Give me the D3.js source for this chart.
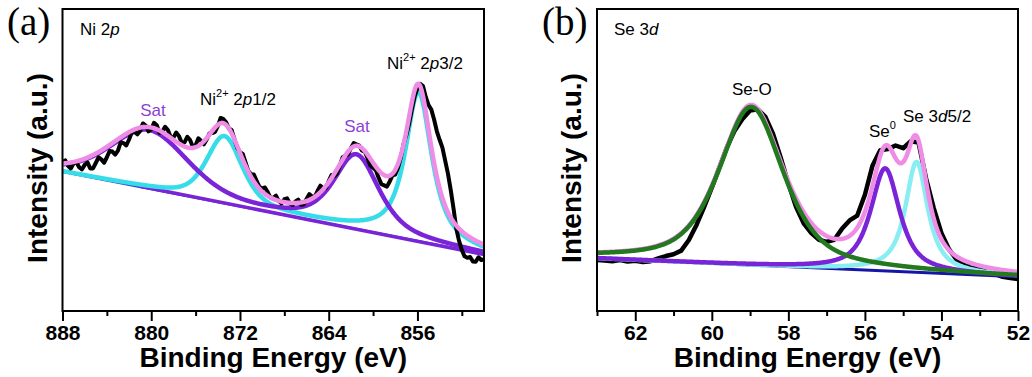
<!DOCTYPE html>
<html>
<head>
<meta charset="utf-8">
<script src="https://cdn.jsdelivr.net/npm/d3@7"></script>
<style>
  html, body { margin: 0; padding: 0; background: #fff; }
  svg { display: block; font-family: "Liberation Sans", Arial, sans-serif; }
</style>
</head>
<body>
<svg id="chart" width="1032" height="377"></svg>
<script>
// ---------- Ni 2p region ----------
// measured spectrum: [binding energy (eV), intensity (a.u.)]
const niData = [
  [888.0,49.3],[887.75,49.9],[887.5,48.1],[887.25,47.2],[887.0,48.9],[886.75,49.3],[886.5,47.6],[886.25,46.9],
  [886.0,48.4],[885.75,49.2],[885.5,47.2],[885.25,47.2],[885.0,49.0],[884.75,50.9],[884.5,50.2],[884.25,49.1],
  [884.0,50.9],[883.75,53.0],[883.5,52.8],[883.25,51.8],[883.0,53.1],[882.75,55.9],[882.5,55.6],[882.25,54.8],
  [882.0,56.8],[881.75,59.2],[881.5,59.3],[881.25,58.5],[881.0,59.6],[880.75,62.1],[880.5,61.4],[880.25,59.5],
  [880.0,60.2],[879.75,62.3],[879.5,61.5],[879.25,59.0],[879.0,59.4],[878.75,61.0],[878.5,59.9],[878.25,57.6],
  [878.0,57.4],[877.75,59.1],[877.5,57.9],[877.25,55.7],[877.0,55.8],[876.75,57.7],[876.5,56.6],[876.25,54.4],
  [876.0,54.9],[875.75,57.2],[875.5,56.3],[875.25,55.2],[875.0,56.8],[874.75,58.8],[874.5,58.9],[874.25,59.3],
  [874.0,61.2],[873.75,63.9],[873.5,63.6],[873.25,62.5],[873.0,60.4],[872.75,59.9],[872.5,56.9],[872.25,54.0],
  [872.0,52.6],[871.75,52.0],[871.5,49.2],[871.25,46.4],[871.0,45.3],[870.75,45.2],[870.5,43.1],[870.25,41.1],
  [870.0,40.6],[869.75,40.9],[869.5,39.4],[869.25,37.5],[869.0,37.5],[868.75,38.2],[868.5,36.4],[868.25,35.6],
  [868.0,37.0],[867.75,37.3],[867.5,35.6],[867.25,35.1],[867.0,36.3],[866.75,36.9],[866.5,35.2],[866.25,35.3],
  [866.0,37.1],[865.75,38.7],[865.5,37.9],[865.25,37.9],[865.0,39.8],[864.75,41.5],[864.5,40.6],[864.25,40.7],
  [864.0,43.0],[863.75,45.0],[863.5,44.6],[863.25,45.5],[863.0,48.1],[862.75,50.9],[862.5,51.4],[862.25,51.9],
  [862.0,53.9],[861.75,55.6],[861.5,55.2],[861.25,54.8],[861.0,53.1],[860.75,52.8],[860.5,50.6],[860.25,48.2],
  [860.0,47.4],[859.75,46.6],[859.5,44.1],[859.25,42.0],[859.0,41.6],[858.75,41.2],[858.5,42.9],[858.25,44.9],
  [858.0,45.2],[857.75,47.4],[857.5,50.8],[857.25,55.3],[857.0,58.3],[856.75,62.0],[856.5,66.8],[856.25,71.1],
  [856.0,73.8],[855.75,75.2],[855.5,74.5],[855.25,70.9],[855.0,68.2],[854.75,66.7],[854.5,63.4],[854.25,59.5],
  [854.0,56.7],[853.75,54.1],[853.5,49.8],[853.25,45.5],[853.0,40.1],[852.75,34.0],[852.5,27.3],[852.25,23.2],
  [852.0,20.2],[851.75,18.1],[851.5,17.6],[851.25,17.9],[851.0,16.4],[850.75,16.3],[850.5,17.8],[850.25,16.9],
  [850.0,17.1]
];
// linear background end points
const niBackground = [[888, 46.1], [850, 18.9]];
const niSatBackground = [[881, 41.3], [850, 18.7]];
// fitted components: 2p3/2, 2p1/2, satellite, satellite
const niCenters = [855.9, 873.4, 880.2, 861.5];
const niHeights = [49.3, 22.0, 19.2, 24.5];
const niFwhm    = [2.85, 3.8, 8.2, 4.8];
const niLorentz = [0.85, 0.5, 0.3, 0.6];
const niGroups  = ["main", "main", "sat", "sat"];
const niTicks = [888, 880, 872, 864, 856];
const niMinorTicks = [884, 876, 868, 860, 852];

// ---------- Se 3d region ----------
const seData = [
  [63.0,16.9],[62.8,16.7],[62.6,16.5],[62.4,16.9],[62.2,16.4],[62.0,16.6],[61.8,16.2],[61.6,16.5],
  [61.4,17.4],[61.2,18.2],[61.0,18.8],[60.8,20.0],[60.6,23.5],[60.4,28.5],[60.2,34.5],[60.0,40.8],
  [59.8,47.6],[59.6,54.4],[59.4,59.8],[59.2,63.6],[59.0,66.4],[58.8,66.8],[58.6,64.3],[58.4,58.6],
  [58.2,50.8],[58.0,42.2],[57.8,34.5],[57.6,29.0],[57.4,25.8],[57.2,23.6],[57.0,22.9],[56.8,23.6],
  [56.6,27.2],[56.4,30.0],[56.2,31.6],[56.0,38.5],[55.8,48.2],[55.6,53.2],[55.4,53.6],[55.2,54.8],
  [55.0,53.9],[54.8,56.2],[54.6,55.8],[54.4,43.8],[54.2,34.0],[54.0,25.8],[53.8,20.4],[53.6,16.9],
  [53.4,15.4],[53.2,14.6],[53.0,13.8],[52.8,12.9],[52.6,12.2],[52.4,11.3],[52.2,10.9],[52.0,10.6]
];
const seBackground = [[63, 17.45], [52, 11.3]];
// fitted components: Se-O, Se0, Se 3d5/2
const seCenters = [58.97, 55.47, 54.65];
const seHeights = [52.4, 34.0, 36.6];
const seFwhm    = [2.0, 0.9, 0.7];
const seLorentz = [0.6, 0.8, 0.9];
const seTicks = [62, 60, 58, 56, 54, 52];
const seMinorTicks = [63, 61, 59, 57, 55, 53];

// ---------- styling ----------
const colors = {
  data: "#000000",
  envelope: "#ef8ce6",
  cyan: "#36dde9",
  cyanLight: "#88eef2",
  purple: "#7a24d8",
  satText: "#8c3fd8",
  blue: "#2e3ccc",
  navy: "#1616a6",
  green: "#23791f"
};

const svg = d3.select("#chart");

// pseudo-Voigt line shape
function pseudoVoigt(e, c, h, w, m) {
  const t2 = 4 * ((e - c) / w) ** 2;
  return h * (m / (1 + t2) + (1 - m) * Math.exp(-Math.LN2 * t2));
}
function lineAt(pts, e) {
  const [[e0, v0], [e1, v1]] = pts;
  return v0 + (v1 - v0) * (e - e0) / (e1 - e0);
}

function panel(opts) {
  const { left, right, top, bottom, domain } = opts;
  const x = d3.scaleLinear().domain(domain).range([left, right]);
  const y = d3.scaleLinear().domain([0, 100]).range([bottom, top]);
  const g = svg.append("g");
  const clipId = "clip-" + opts.id;
  g.append("clipPath").attr("id", clipId)
    .append("rect").attr("x", left).attr("y", top)
    .attr("width", right - left).attr("height", bottom - top);
  const plot = g.append("g").attr("clip-path", `url(#${clipId})`);
  const line = d3.line().x(d => x(d[0])).y(d => y(d[1]));

  // x axis: major + minor ticks pointing outwards
  const major = d3.axisBottom(x).tickValues(opts.ticks).tickSize(10).tickPadding(4)
    .tickFormat(d3.format("d"));
  const minor = d3.axisBottom(x).tickValues(opts.minorTicks).tickSize(5).tickFormat("");
  const ax = g.append("g").attr("transform", `translate(0,${bottom})`).call(major);
  const axm = g.append("g").attr("transform", `translate(0,${bottom})`).call(minor);
  [ax, axm].forEach(a => {
    a.select(".domain").remove();
    a.selectAll("line").attr("stroke", "#000").attr("stroke-width", 2);
  });
  ax.selectAll("text").attr("fill", "#000")
    .style("font-family", '"Liberation Sans", Arial, sans-serif')
    .style("font-weight", "bold").style("font-size", "21px");

  // frame
  g.append("rect").attr("x", left).attr("y", top)
    .attr("width", right - left).attr("height", bottom - top)
    .attr("fill", "none").attr("stroke", "#000").attr("stroke-width", 2);

  // axis titles
  g.append("text").attr("x", (left + right) / 2).attr("y", 367)
    .attr("text-anchor", "middle").style("font-weight", "bold").style("font-size", "28px")
    .text("Binding Energy (eV)");
  g.append("text").attr("transform", `translate(${opts.yTitleX},168) rotate(-90)`)
    .attr("text-anchor", "middle").style("font-weight", "bold").style("font-size", "28px")
    .text("Intensity (a.u.)");

  // panel letter
  g.append("text").attr("x", opts.letterX).attr("y", 35)
    .style("font-family", '"Liberation Serif", "Times New Roman", serif')
    .style("font-size", "39px").text(opts.letter);

  return { x, y, plot, line, g };
}

// ================= (a) Ni 2p =================
{
  const p = panel({ id: "a", left: 62.5, right: 484, top: 9, bottom: 311,
    domain: [888, 850], ticks: niTicks, minorTicks: niMinorTicks,
    yTitleX: 47, letter: "(a)", letterX: 7 });
  const grid = d3.range(850, 888.0001, 0.05);
  const comp = (i, e) => pseudoVoigt(e, niCenters[i], niHeights[i], niFwhm[i], niLorentz[i]);
  const idx = grp => niGroups.map((g, i) => g === grp ? i : -1).filter(i => i >= 0);
  const sumOf = (ids, e) => ids.reduce((s, i) => s + comp(i, e), 0);
  const mainIds = idx("main"), satIds = idx("sat"), allIds = niCenters.map((_, i) => i);

  const cyanCurve = grid.map(e => [e, lineAt(niBackground, e) + sumOf(mainIds, e)]);
  const satCurve = grid.map(e => [e, lineAt(niBackground, e) + sumOf(satIds, e)]);
  const envelope = grid.map(e => [e, lineAt(niBackground, e) + sumOf(allIds, e)]);

  const draw = (data, color, w) => p.plot.append("path").datum(data)
    .attr("d", p.line).attr("fill", "none").attr("stroke", color)
    .attr("stroke-width", w).attr("stroke-linejoin", "round").attr("stroke-linecap", "round");

  draw(niBackground, colors.blue, 2.5);
  draw(niSatBackground, colors.purple, 3.5);
  draw(cyanCurve, colors.cyan, 4.5);
  draw(satCurve, colors.purple, 4.5);
  draw(niData, colors.data, 4);
  draw(envelope, colors.envelope, 4.5);

  const t = p.g.append("g").style("font-size", "17px");
  t.append("text").attr("x", 80).attr("y", 35).html('Ni 2<tspan font-style="italic">p</tspan>');
  t.append("text").attr("x", 153).attr("y", 116).attr("text-anchor", "middle")
    .attr("fill", colors.satText).text("Sat");
  t.append("text").attr("x", 357).attr("y", 132).attr("text-anchor", "middle")
    .attr("fill", colors.satText).text("Sat");
  t.append("text").attr("x", 200).attr("y", 105)
    .html('Ni<tspan dy="-8" font-size="11">2+</tspan><tspan dy="8"> 2</tspan><tspan font-style="italic">p</tspan>1/2');
  t.append("text").attr("x", 387).attr("y", 69)
    .html('Ni<tspan dy="-8" font-size="11">2+</tspan><tspan dy="8"> 2</tspan><tspan font-style="italic">p</tspan>3/2');
}

// ================= (b) Se 3d =================
{
  const p = panel({ id: "b", left: 597, right: 1018, top: 9, bottom: 311,
    domain: [63, 52], ticks: seTicks, minorTicks: seMinorTicks,
    yTitleX: 581, letter: "(b)", letterX: 542 });
  const grid = d3.range(52, 63.0001, 0.02);
  const comp = (i, e) => pseudoVoigt(e, seCenters[i], seHeights[i], seFwhm[i], seLorentz[i]);
  const withBg = i => grid.map(e => [e, lineAt(seBackground, e) + comp(i, e)]);
  const envelope = grid.map(e => [e, lineAt(seBackground, e) + seCenters.reduce((s, _, i) => s + comp(i, e), 0)]);

  const draw = (data, color, w) => p.plot.append("path").datum(data)
    .attr("d", p.line).attr("fill", "none").attr("stroke", color)
    .attr("stroke-width", w).attr("stroke-linejoin", "round").attr("stroke-linecap", "round");

  draw(seData, colors.data, 4.5);
  draw(seBackground, colors.navy, 3);
  draw(withBg(2), colors.cyanLight, 4.5);
  draw(withBg(1), colors.purple, 4.5);
  draw(envelope, colors.envelope, 4.5);
  draw(withBg(0), colors.green, 4.5);

  const t = p.g.append("g").style("font-size", "17px");
  t.append("text").attr("x", 614).attr("y", 35).html('Se 3<tspan font-style="italic">d</tspan>');
  t.append("text").attr("x", 732).attr("y", 95).text("Se-O");
  t.append("text").attr("x", 869).attr("y", 137)
    .html('Se<tspan dy="-8" font-size="11">0</tspan>');
  t.append("text").attr("x", 903).attr("y", 122)
    .html('Se 3<tspan font-style="italic">d</tspan>5/2');
}
</script>
</body>
</html>
